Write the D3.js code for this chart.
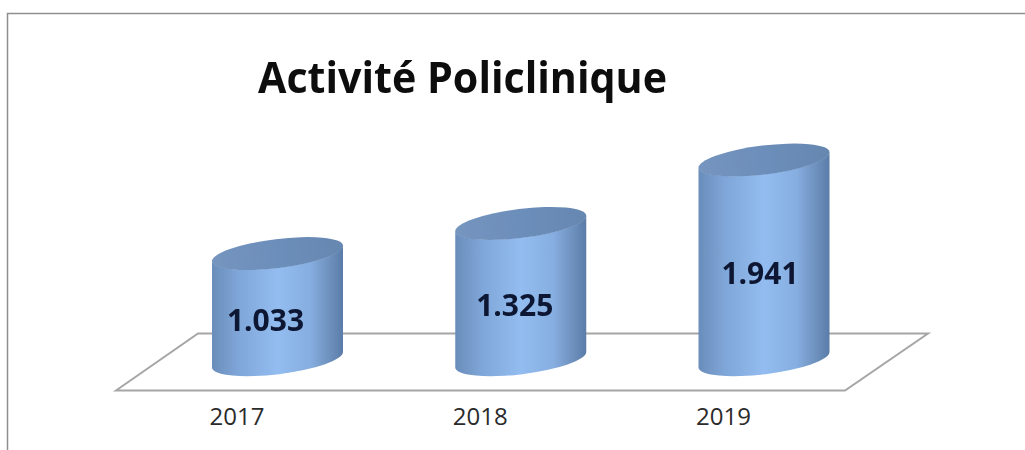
<!DOCTYPE html>
<html>
<head>
<meta charset="utf-8">
<script src="https://cdn.jsdelivr.net/npm/d3@7"></script>
<style>
  html, body { margin: 0; padding: 0; background: #fff; overflow: hidden; }
  svg { display: block; font-family: "Open Sans", sans-serif; }
</style>
</head>
<body>
<script>
var annees = ["2017", "2018", "2019"];
var valeurs = [1033, 1325, 1941];
var titre = "Activité Policlinique";

var anchoSvg = 1025, altoSvg = 450;
var rx = 66, ry = 14.5, inclinaison = -7;
var tipDy = 8; // the tilted ellipse tips sit +/-8px around its centre
var sol = 360;  // y of the bar foot (ellipse centre)
var decalageEtiquette = [-12, -6, -4];

var svg = d3.select("body").append("svg")
    .attr("width", anchoSvg)
    .attr("height", altoSvg);

var defs = svg.append("defs");

var flou = defs.append("filter").attr("id", "flou");
flou.append("feGaussianBlur").attr("stdDeviation", 0.6);

function degrade(id, stops) {
  var g = defs.append("linearGradient").attr("id", id)
      .attr("x1", "0%").attr("x2", "100%").attr("y1", "0%").attr("y2", "0%");
  stops.forEach(s => g.append("stop").attr("offset", s[0]).attr("stop-color", s[1]));
}
degrade("corps", [["0%", "#6a8dba"], ["20%", "#7fa6d8"], ["50%", "#93bcf0"], ["75%", "#86aee0"], ["92%", "#6a8cb8"], ["100%", "#5a7ca8"]]);
degrade("dessus", [["0%", "#7595bf"], ["50%", "#6c8eba"], ["100%", "#6587b0"]]);

// cadre
svg.append("path")
    .attr("d", "M7.5,450V13.5H1025")
    .attr("fill", "none")
    .attr("stroke", "#8f8f8f")
    .attr("stroke-width", 1.5);

svg.append("text")
    .text(titre)
    .attr("x", 258)
    .attr("y", 93)
    .attr("font-size", 43)
    .attr("font-weight", 700)
    .attr("textLength", 409)
    .attr("lengthAdjust", "spacingAndGlyphs")
    .attr("fill", "#0a0a0a")
    .attr("filter", "url(#flou)");

// plancher
svg.append("path")
    .attr("d", "M116,390.5L198,333.5H928L845,390.5Z")
    .attr("fill", "#fff")
    .attr("stroke", "#a6a6a6")
    .attr("stroke-width", 2)
    .attr("filter", "url(#flou)");

var escalaX = d3.scalePoint()
    .domain(annees)
    .range([277.5, 764]);

var escalaY = d3.scaleLinear()
    .domain([0, d3.max(valeurs)])
    .range([sol, sol - 200]);

var formatoValor = d3.formatLocale({decimal: ",", thousands: ".", grouping: [3], currency: ["", ""]}).format(",d");

// eje X: labels sit left of the cylinders as in 3D office charts
var ejeX = d3.axisBottom(escalaX).tickSize(0).tickPadding(0);
svg.append("g")
    .attr("transform", "translate(-41,408)")
    .call(ejeX)
    .call(g => g.select(".domain").remove())
    .selectAll("text")
    .attr("font-size", 24)
    .attr("font-family", "Open Sans, sans-serif")
    .attr("fill", "#2b2b2b");

var cilindros = svg.append("g")
    .selectAll("g")
    .data(annees)
    .enter()
    .append("g")
    .attr("filter", "url(#flou)");

cilindros.append("path")
    .attr("fill", "url(#corps)")
    .attr("d", (d, i) => {
      var c = escalaX(d), yTop = escalaY(valeurs[i]), yBas = escalaY(0);
      var xl = c - 65.5, xr = c + 65.5;
      var arc = "A" + rx + "," + ry + " " + inclinaison + " 0 ";
      return "M" + xl + "," + (yTop + tipDy)
        + "L" + xl + "," + (yBas + tipDy)
        + arc + "0 " + xr + "," + (yBas - tipDy)
        + "L" + xr + "," + (yTop - tipDy)
        + arc + "1 " + xl + "," + (yTop + tipDy) + "Z";
    });

cilindros.append("ellipse")
    .attr("fill", "url(#dessus)")
    .attr("rx", rx)
    .attr("ry", ry)
    .attr("transform", (d, i) => "translate(" + escalaX(d) + "," + escalaY(valeurs[i]) + ") rotate(" + inclinaison + ")");

svg.append("g")
    .selectAll("text")
    .data(annees)
    .enter()
    .append("text")
    .text((d, i) => formatoValor(valeurs[i]))
    .attr("x", (d, i) => escalaX(d) + decalageEtiquette[i])
    .attr("y", (d, i) => (escalaY(valeurs[i]) + escalaY(0)) / 2 + 24)
    .attr("text-anchor", "middle")
    .attr("font-size", 30)
    .attr("font-weight", 700)
    .attr("fill", "#0c1730")
    .attr("filter", "url(#flou)");
</script>
</body>
</html>
